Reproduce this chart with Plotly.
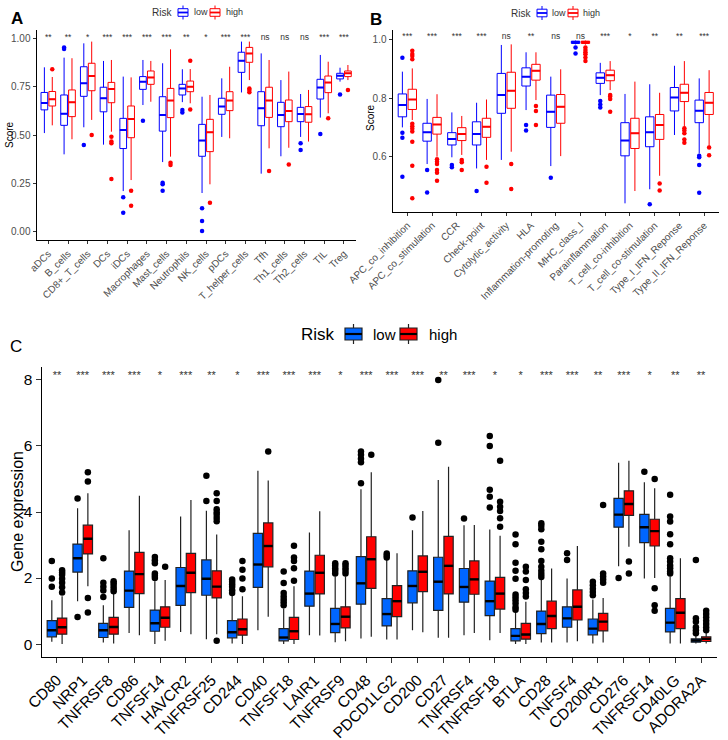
import plotly.graph_objects as go

# ---------------- Panel A : immune cells ----------------
a_cats = ["aDCs", "B_cells", "CD8+_T_cells", "DCs", "iDCs", "Macrophages", "Mast_cells",
          "Neutrophils", "NK_cells", "pDCs", "T_helper_cells", "Tfh", "Th1_cells",
          "Th2_cells", "TIL", "Treg"]
a_sig = ["**", "**", "*", "***", "***", "***", "***", "**", "*", "***", "***", "ns", "ns", "ns", "***", "***"]

a_low_lw = [0.51, 0.40, 0.54, 0.45, 0.21, 0.655, 0.36, 0.67, 0.20, 0.49, 0.72, 0.30, 0.39, 0.49, 0.59, 0.776]
a_low_q1 = [0.63, 0.55, 0.70, 0.62, 0.43, 0.736, 0.52, 0.707, 0.39, 0.607, 0.824, 0.548, 0.543, 0.569, 0.686, 0.79]
a_low_med = [0.665, 0.61, 0.767, 0.69, 0.526, 0.776, 0.603, 0.741, 0.471, 0.647, 0.884, 0.638, 0.603, 0.609, 0.745, 0.807]
a_low_q3 = [0.72, 0.707, 0.853, 0.747, 0.586, 0.802, 0.698, 0.762, 0.555, 0.69, 0.928, 0.724, 0.669, 0.643, 0.788, 0.819]
a_low_uw = [0.85, 0.90, 0.974, 0.883, 0.802, 0.888, 0.871, 0.84, 0.698, 0.793, 0.983, 0.922, 0.784, 0.712, 0.914, 0.848]
a_low_out = [[], [0.953, 0.945], [0.448], [], [0.178, 0.098], [0.574], [0.253, 0.245, 0.212],
             [0.629, 0.616], [0.121, 0.055, 0.003], [], [], [], [], [0.457, 0.422], [0.505], [0.71]]

a_high_lw = [0.55, 0.478, 0.578, 0.517, 0.267, 0.672, 0.388, 0.664, 0.245, 0.483, 0.784, 0.431, 0.434, 0.466, 0.612, 0.784]
a_high_q1 = [0.65, 0.595, 0.729, 0.667, 0.486, 0.762, 0.59, 0.724, 0.414, 0.626, 0.876, 0.591, 0.569, 0.566, 0.719, 0.802]
a_high_med = [0.685, 0.669, 0.805, 0.738, 0.583, 0.798, 0.678, 0.75, 0.514, 0.678, 0.922, 0.678, 0.624, 0.607, 0.771, 0.819]
a_high_q3 = [0.725, 0.733, 0.871, 0.772, 0.65, 0.831, 0.741, 0.779, 0.581, 0.724, 0.953, 0.747, 0.681, 0.647, 0.805, 0.831]
a_high_uw = [0.80, 0.897, 0.983, 0.888, 0.798, 0.883, 0.943, 0.841, 0.707, 0.853, 0.983, 0.888, 0.828, 0.733, 0.879, 0.862]
a_high_out = [[0.84], [], [0.50], [0.491, 0.466, 0.457, 0.272], [0.212, 0.134], [], [0.357, 0.345],
              [0.884, 0.632], [0.15], [], [0.741, 0.733, 0.721], [0.314], [0.348], [], [0.586], [0.733]]

# ---------------- Panel B : immune functions ----------------
b_cats = ["APC_co_inhibition", "APC_co_stimulation", "CCR", "Check-point", "Cytolytic_activity",
          "HLA", "Inflammation-promoting", "MHC_class_I", "Parainflammation",
          "T_cell_co-inhibition", "T_cell_co-stimulation", "Type_I_IFN_Reponse", "Type_II_IFN_Reponse"]
b_sig = ["***", "***", "***", "***", "ns", "**", "ns", "ns", "***", "*", "**", "**", "***"]

b_low_lw = [0.70, 0.575, 0.598, 0.56, 0.589, 0.759, 0.568, 0.983, 0.81, 0.441, 0.489, 0.674, 0.611]
b_low_q1 = [0.736, 0.653, 0.64, 0.64, 0.748, 0.841, 0.70, 0.986, 0.85, 0.603, 0.634, 0.756, 0.716]
b_low_med = [0.776, 0.683, 0.66, 0.677, 0.81, 0.873, 0.753, 0.991, 0.869, 0.655, 0.683, 0.802, 0.757]
b_low_q3 = [0.814, 0.714, 0.682, 0.719, 0.884, 0.903, 0.81, 0.994, 0.886, 0.716, 0.736, 0.836, 0.793]
b_low_uw = [0.89, 0.797, 0.751, 0.784, 0.981, 0.956, 0.873, 0.996, 0.92, 0.814, 0.847, 0.91, 0.867]
b_low_out = [[0.937, 0.682, 0.665, 0.532], [0.555, 0.478], [0.572, 0.564], [0.483], [], [0.708, 0.689],
             [0.528], [0.972, 0.952], [0.79, 0.778, 0.768], [], [0.438], [], [0.603, 0.598, 0.572, 0.477]]

b_high_lw = [0.725, 0.60, 0.606, 0.589, 0.617, 0.793, 0.602, 0.982, 0.827, 0.483, 0.535, 0.702, 0.634]
b_high_q1 = [0.761, 0.677, 0.655, 0.666, 0.765, 0.861, 0.714, 0.986, 0.859, 0.628, 0.659, 0.788, 0.744]
b_high_med = [0.795, 0.71, 0.677, 0.702, 0.825, 0.893, 0.77, 0.991, 0.878, 0.68, 0.708, 0.818, 0.784]
b_high_q3 = [0.83, 0.734, 0.699, 0.731, 0.888, 0.915, 0.812, 0.994, 0.895, 0.731, 0.744, 0.847, 0.819]
b_high_uw = [0.901, 0.813, 0.739, 0.795, 0.983, 0.956, 0.898, 0.996, 0.926, 0.856, 0.818, 0.926, 0.895]
b_high_out = [[0.961, 0.95, 0.943, 0.932, 0.712, 0.704, 0.695, 0.686, 0.651, 0.569, 0.458],
              [0.591, 0.583, 0.575, 0.555, 0.545, 0.518], [0.589, 0.581, 0.555], [0.566, 0.511],
              [0.575, 0.49], [0.773, 0.756, 0.708], [], [0.972, 0.964, 0.956, 0.949, 0.938, 0.926],
              [0.81, 0.805, 0.797, 0.753], [], [0.509, 0.485], [0.697, 0.689, 0.68, 0.659, 0.648], [0.631, 0.605]]

# ---------------- Panel C : immune checkpoint genes ----------------
c_genes = ["CD80", "NRP1", "TNFRSF8", "CD86", "TNFSF14", "HAVCR2", "TNFRSF25", "CD244", "CD40",
           "TNFSF18", "LAIR1", "TNFRSF9", "CD48", "PDCD1LG2", "CD200", "CD27", "TNFRSF4",
           "TNFRSF18", "BTLA", "CD28", "TNFSF4", "CD200R1", "CD276", "TNFRSF14", "CD40LG", "ADORA2A"]
c_sig = ["**", "***", "***", "***", "*", "***", "**", "*", "***", "***", "***", "*", "***",
         "***", "***", "**", "***", "*", "*", "***", "***", "**", "***", "*", "**", "**"]

c_low_lw = [0.07, 1.30, 0.05, 0.34, 0.0, 0.37, 0.15, 0.02, 0.42, 0.0, 0.27, 0.06, 0.17, 0.14, 0.42,
            0.19, 0.27, 0.12, 0.0, 0.05, 0.05, 0.02, 2.36, 1.99, 0.02, 0.02]
c_low_q1 = [0.22, 2.18, 0.20, 1.11, 0.39, 1.17, 1.48, 0.19, 1.72, 0.10, 1.15, 0.35, 1.21, 0.55, 1.25,
            1.02, 1.27, 0.86, 0.10, 0.32, 0.51, 0.28, 3.54, 3.07, 0.37, 0.06]
c_low_med = [0.42, 2.60, 0.42, 1.62, 0.63, 1.76, 1.98, 0.36, 2.41, 0.20, 1.53, 0.61, 1.84, 0.91, 1.76,
             1.89, 1.73, 1.30, 0.25, 0.61, 0.78, 0.47, 3.92, 3.54, 0.65, 0.11]
c_low_q3 = [0.71, 3.03, 0.63, 2.21, 1.03, 2.32, 2.55, 0.71, 3.35, 0.47, 2.21, 1.08, 2.65, 1.38, 2.22,
            2.63, 2.29, 1.91, 0.47, 1.00, 1.13, 0.76, 4.41, 3.93, 1.08, 0.16]
c_low_uw = [1.33, 4.11, 1.18, 3.45, 1.90, 3.86, 4.04, 1.48, 5.25, 1.08, 3.38, 2.05, 4.69, 2.55, 3.45,
            4.97, 3.60, 3.47, 0.98, 1.95, 1.99, 1.35, 5.49, 4.90, 2.05, 0.30]
c_low_out = [[2.52, 1.99, 1.74], [4.41, 0.82], [2.60, 1.86, 1.74, 1.62, 1.43], [],
             [2.64, 2.54, 2.45, 2.14, 2.07, 2.0], [], [5.10, 4.33], [1.96, 1.89, 1.81, 1.74, 1.63, 1.55], [],
             [2.2, 1.85, 1.55, 1.44, 1.35, 1.27, 1.18], [], [2.45, 2.38, 2.3, 2.22, 2.14],
             [5.83, 5.73, 5.61, 5.51, 4.87], [2.74, 2.68, 2.62], [3.83], [8.0, 6.1], [3.8],
             [6.3, 6.0, 4.67, 4.46, 4.14], [3.32, 3.02, 2.46, 2.22, 1.98, 1.5, 1.42, 1.33, 1.23, 1.12, 1.04],
             [3.66, 3.58, 3.48, 3.1, 2.87, 2.52, 2.34, 2.22, 2.12, 2.03], [2.75, 2.55],
             [1.89, 1.78, 1.68, 1.58, 1.48], [2.0], [5.22],
             [4.52, 3.86, 3.71, 3.33, 3.02, 2.6, 2.5, 2.38, 2.3, 2.2, 2.14], [2.55, 0.78, 0.68, 0.51, 0.42, 0.33]]

c_high_lw = [0.0, 1.75, 0.02, 0.27, 0.10, 0.30, 0.30, 0.0, 0.83, 0.0, 0.26, 0.09, 0.22, 0.14, 0.36,
             0.19, 0.34, 0.34, 0.0, 0.05, 0.09, 0.05, 2.95, 2.0, 0.02, 0.02]
c_high_q1 = [0.30, 2.73, 0.30, 1.53, 0.51, 1.56, 1.40, 0.27, 2.34, 0.14, 1.52, 0.49, 1.69, 0.83, 1.59,
             1.52, 1.51, 1.06, 0.15, 0.47, 0.73, 0.40, 3.90, 2.97, 0.47, 0.08]
c_high_med = [0.51, 3.19, 0.52, 2.12, 0.80, 2.16, 1.74, 0.45, 2.97, 0.39, 2.16, 0.83, 2.57, 1.30, 2.19,
              2.37, 1.96, 1.53, 0.29, 0.85, 1.13, 0.68, 4.24, 3.42, 0.95, 0.16]
c_high_q3 = [0.79, 3.60, 0.81, 2.78, 1.13, 2.75, 2.22, 0.76, 3.67, 0.81, 2.69, 1.13, 3.25, 1.77, 2.67,
             3.26, 2.52, 2.02, 0.63, 1.30, 1.64, 0.93, 4.64, 3.78, 1.38, 0.22]
c_high_uw = [1.45, 4.57, 1.53, 4.49, 1.94, 4.36, 3.32, 1.45, 4.95, 1.75, 4.02, 2.05, 5.20, 2.75, 4.03,
             5.37, 3.61, 3.28, 1.28, 2.29, 2.97, 1.40, 5.55, 4.72, 2.60, 0.38]
c_high_out = [[2.24, 2.17, 2.1, 1.98, 1.86, 1.72, 1.56], [5.20, 4.92, 1.40, 0.96], [1.9, 1.84, 1.76, 1.68, 1.6],
              [], [2.34], [], [4.57, 4.33, 4.08, 3.99, 3.92, 3.82, 3.72, 0.10], [2.52, 2.25, 1.99, 1.66],
              [5.83], [2.98, 2.62, 2.52, 2.3, 1.92], [], [2.45, 2.38, 2.3, 2.22, 2.14], [5.73], [], [], [], [],
              [5.55, 4.31, 4.16, 4.03, 3.81, 3.55], [2.34, 2.2, 1.94, 1.66, 1.55, 1.44], [], [],
              [4.21, 2.14, 2.05, 1.96, 1.86], [2.5, 2.14], [5.0, 1.69, 1.18, 1.01], [],
              [1.01, 0.91, 0.81, 0.71, 0.61, 0.51, 0.42]]

groups = ["low", "high"]
legend_title = "Risk"

FONT = "Liberation Sans, Arial, sans-serif"
W, H = 728, 740
fig = go.Figure()


def dx(px):
    return px / W


def dy(py):
    return 1 - py / H


def median_segments(pos, med, w):
    xs, ys = [], []
    for p, m in zip(pos, med):
        xs += [p - w / 2, p + w / 2, None]
        ys += [m, m, None]
    return xs, ys


def outlier_points(pos, outs):
    xs, ys = [], []
    for p, o in zip(pos, outs):
        for v in o:
            xs.append(p)
            ys.append(v)
    return xs, ys


def add_panel(xa, ya, stats, fills, edge, width, offset, med_cols, pt_cols, pt_size, lw, med_lw):
    for gi, g in enumerate(groups):
        lwv, q1, med, q3, uw, outs = stats[gi]
        n = len(med)
        pos = [i + (offset if gi else -offset) for i in range(n)]
        fig.add_trace(go.Box(
            x=pos, q1=q1, median=med, q3=q3, lowerfence=lwv, upperfence=uw,
            width=width, boxpoints=False, whiskerwidth=0, name=g,
            fillcolor=fills[gi], line=dict(color=edge[gi], width=lw),
            xaxis=xa, yaxis=ya, showlegend=False, hoverinfo="skip"))
        mx, my = median_segments(pos, med, width)
        fig.add_trace(go.Scatter(x=mx, y=my, mode="lines",
                                 line=dict(color=med_cols[gi], width=med_lw),
                                 xaxis=xa, yaxis=ya, showlegend=False, hoverinfo="skip"))
        ox, oy = outlier_points(pos, outs)
        fig.add_trace(go.Scatter(x=ox, y=oy, mode="markers",
                                 marker=dict(color=pt_cols[gi], size=pt_size, line=dict(width=0)),
                                 xaxis=xa, yaxis=ya, showlegend=False, hoverinfo="skip"))


BLUE, RED = "#0000FF", "#FF0000"
CBLUE, CRED = "#0066FF", "#FF0000"

add_panel("x", "y",
          [(a_low_lw, a_low_q1, a_low_med, a_low_q3, a_low_uw, a_low_out),
           (a_high_lw, a_high_q1, a_high_med, a_high_q3, a_high_uw, a_high_out)],
          ["white", "white"], [BLUE, RED], 0.34, 0.2, [BLUE, RED], [BLUE, RED], 4.5, 1, 2)

add_panel("x2", "y2",
          [(b_low_lw, b_low_q1, b_low_med, b_low_q3, b_low_uw, b_low_out),
           (b_high_lw, b_high_q1, b_high_med, b_high_q3, b_high_uw, b_high_out)],
          ["white", "white"], [BLUE, RED], 0.34, 0.2, [BLUE, RED], [BLUE, RED], 4.5, 1, 2)

add_panel("x3", "y3",
          [(c_low_lw, c_low_q1, c_low_med, c_low_q3, c_low_uw, c_low_out),
           (c_high_lw, c_high_q1, c_high_med, c_high_q3, c_high_uw, c_high_out)],
          [CBLUE, CRED], ["#222222", "#222222"], 0.36, 0.2, ["black", "black"],
          ["black", "black"], 6.5, 1.2, 2.4)

# significance labels
fig.add_trace(go.Scatter(x=list(range(len(a_cats))), y=[1.0] * len(a_cats), text=a_sig, mode="text",
                         textfont=dict(size=8.5, color="#333333", family=FONT),
                         xaxis="x", yaxis="y", showlegend=False, hoverinfo="skip"))
fig.add_trace(go.Scatter(x=list(range(len(b_cats))), y=[1.008] * len(b_cats), text=b_sig, mode="text",
                         textfont=dict(size=8.5, color="#333333", family=FONT),
                         xaxis="x2", yaxis="y2", showlegend=False, hoverinfo="skip"))
fig.add_trace(go.Scatter(x=list(range(len(c_genes))), y=[8.12] * len(c_genes), text=c_sig, mode="text",
                         textfont=dict(size=11, color="#333333", family=FONT),
                         xaxis="x3", yaxis="y3", showlegend=False, hoverinfo="skip"))

# ---------------- legends (ggplot style key: box + median + whisker stubs) ----------------
shapes = []
annotations = []


def draw_legend(title_right, yc, icons, text_lefts, fills, edges, meds, half_box, half_wh,
                title_size, text_size, color, lw):
    annotations.append(dict(text=legend_title, x=dx(title_right), y=dy(yc), xref="paper", yref="paper",
                            xanchor="right", yanchor="middle", showarrow=False,
                            font=dict(size=title_size, color=color, family=FONT)))
    for gi, g in enumerate(groups):
        x0, x1 = icons[gi]
        xm = (x0 + x1) / 2
        shapes.append(dict(type="line", xref="paper", yref="paper", x0=dx(xm), x1=dx(xm),
                           y0=dy(yc - half_wh), y1=dy(yc + half_wh), line=dict(color=edges[gi], width=lw)))
        shapes.append(dict(type="rect", xref="paper", yref="paper", x0=dx(x0), x1=dx(x1),
                           y0=dy(yc - half_box), y1=dy(yc + half_box), fillcolor=fills[gi],
                           line=dict(color=edges[gi], width=lw)))
        shapes.append(dict(type="line", xref="paper", yref="paper", x0=dx(x0), x1=dx(x1),
                           y0=dy(yc), y1=dy(yc), line=dict(color=meds[gi], width=lw * 1.8)))
        annotations.append(dict(text=g, x=dx(text_lefts[gi]), y=dy(yc), xref="paper", yref="paper",
                                xanchor="left", yanchor="middle", showarrow=False,
                                font=dict(size=text_size, color=color, family=FONT)))


draw_legend(174, 12.5, [(178, 188), (210, 220)], [192, 224], ["white", "white"], [BLUE, RED],
            [BLUE, RED], 3.8, 7, 10, 9, "#333333", 1)
draw_legend(533, 13, [(537, 547), (568, 578)], [550, 581], ["white", "white"], [BLUE, RED],
            [BLUE, RED], 3.8, 7, 10, 9, "#333333", 1)
draw_legend(337, 334, [(345, 362), (400, 417)], [371, 427], [CBLUE, CRED], ["#222222", "#222222"],
            ["black", "black"], 6, 10, 17, 15, "black", 1.2)

small_axis = dict(showline=True, linecolor="black", linewidth=1, ticks="outside", ticklen=3,
                  tickcolor="#333333", tickwidth=1, showgrid=False, zeroline=False, automargin=False,
                  tickfont=dict(size=10, color="#4D4D4D", family=FONT))
big_axis = dict(showline=True, linecolor="black", linewidth=1, ticks="outside", ticklen=5,
                tickcolor="#333333", tickwidth=1, showgrid=False, zeroline=False, automargin=False,
                tickfont=dict(size=15.5, color="black", family=FONT))

annotations += [
    dict(text="<b>A</b>", x=dx(17), y=dy(19), xref="paper", yref="paper", showarrow=False,
         xanchor="center", yanchor="middle", font=dict(size=17, color="black", family=FONT)),
    dict(text="<b>B</b>", x=dx(376), y=dy(20), xref="paper", yref="paper", showarrow=False,
         xanchor="center", yanchor="middle", font=dict(size=17, color="black", family=FONT)),
    dict(text="C", x=dx(16), y=dy(346), xref="paper", yref="paper", showarrow=False,
         xanchor="center", yanchor="middle", font=dict(size=17, color="black", family=FONT)),
    dict(text="Score", x=dx(9), y=dy(135), xref="paper", yref="paper", showarrow=False,
         xanchor="center", yanchor="middle", textangle=-90, font=dict(size=10, color="black", family=FONT)),
    dict(text="Score", x=dx(370), y=dy(118), xref="paper", yref="paper", showarrow=False,
         xanchor="center", yanchor="middle", textangle=-90, font=dict(size=10, color="black", family=FONT)),
    dict(text="Gene expression", x=dx(17), y=dy(512), xref="paper", yref="paper", showarrow=False,
         xanchor="center", yanchor="middle", textangle=-90, font=dict(size=16, color="black", family=FONT)),
]

fig.update_layout(
    width=W, height=H, margin=dict(l=0, r=0, t=0, b=0, autoexpand=False),
    plot_bgcolor="white", paper_bgcolor="white", boxmode="overlay", showlegend=False,
    font=dict(family=FONT),
    xaxis=dict(domain=[dx(36.5), dx(355.8)], range=[-0.6, len(a_cats) - 0.4],
               tickvals=list(range(len(a_cats))), ticktext=a_cats, tickangle=-45, anchor="y", **small_axis),
    yaxis=dict(domain=[dy(240), dy(30)], range=[-0.043, 1.043], tickvals=[0, 0.25, 0.5, 0.75, 1.0],
               tickformat=".2f", anchor="x", **small_axis),
    xaxis2=dict(domain=[dx(392.5), dx(719)], range=[-0.6, len(b_cats) - 0.4],
                tickvals=list(range(len(b_cats))), ticktext=b_cats, tickangle=-45, anchor="y2", **small_axis),
    yaxis2=dict(domain=[dy(211.7), dy(30)], range=[0.4125, 1.032], tickvals=[0.6, 0.8, 1.0],
                tickformat=".1f", anchor="x2", **small_axis),
    xaxis3=dict(domain=[dx(41.5), dx(716.5)], range=[-0.6, len(c_genes) - 0.4],
                tickvals=list(range(len(c_genes))), ticktext=c_genes, tickangle=-45, anchor="y3",
                ticklabelstandoff=2, **big_axis),
    yaxis3=dict(domain=[dy(657), dy(367)], range=[-0.39, 8.39], tickvals=[0, 2, 4, 6, 8],
                anchor="x3", **big_axis),
    shapes=shapes,
    annotations=annotations,
)

fig.write_html("out.html", config={"displayModeBar": False},
               post_script="document.body.style.margin='0';")
